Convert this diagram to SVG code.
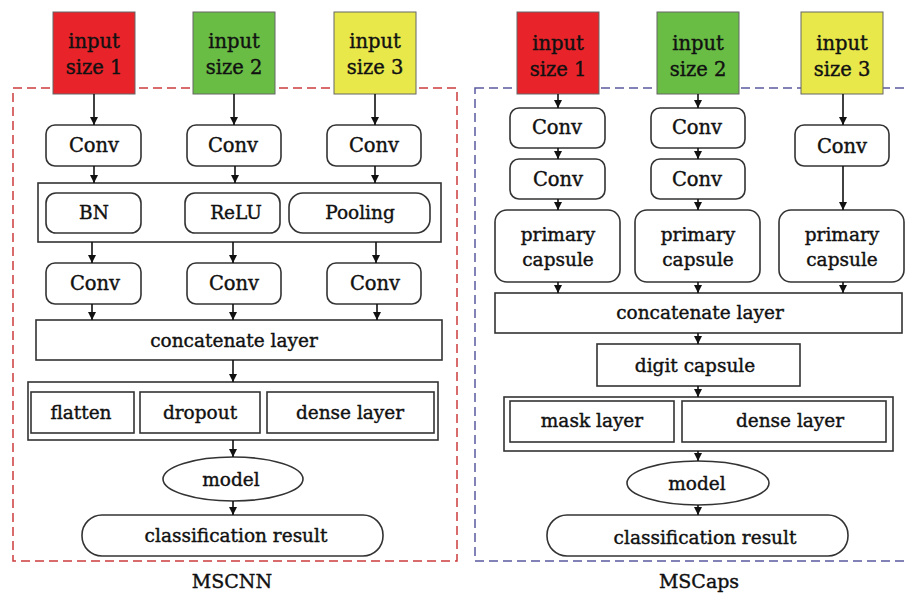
<svg xmlns="http://www.w3.org/2000/svg" width="908" height="593" viewBox="0 0 908 593">
<defs>
<marker id="ah" markerUnits="userSpaceOnUse" markerWidth="9" markerHeight="9" refX="8" refY="4" orient="auto">
<path d="M0,0 L8,4 L0,8 z" fill="#111"/>
</marker>
<style>
text{font-family:"DejaVu Serif","Liberation Serif",serif;font-size:18.5px;fill:#111;stroke:#111;stroke-width:0.4;text-anchor:middle}
.big{font-size:19.5px}
.b{fill:#fff;stroke:#333;stroke-width:1.6}
.in{stroke:#666;stroke-width:1}
.c line{stroke:#111;stroke-width:1.6;marker-end:url(#ah)}
.lbl{font-size:19px}
</style>
</defs>
<rect width="908" height="593" fill="#fff"/>
<!-- frames -->
<rect x="13" y="88" width="444" height="473" fill="none" stroke="#cc3b3b" stroke-width="1.5" stroke-dasharray="9,5"/>
<rect x="475" y="88" width="440" height="473" fill="none" stroke="#5a5a9e" stroke-width="1.5" stroke-dasharray="9,5"/>

<!-- LEFT: MSCNN -->
<g id="L_in1"><rect class="in" x="53" y="12" width="82" height="82" fill="#e8232a"/><text class="big" x="94" y="48">input</text><text class="big" x="94" y="74">size 1</text></g>
<g id="L_in2"><rect class="in" x="193" y="12" width="82" height="82" fill="#69bd45"/><text class="big" x="234" y="48">input</text><text class="big" x="234" y="74">size 2</text></g>
<g id="L_in3"><rect class="in" x="334" y="12" width="82" height="82" fill="#e8e84b"/><text class="big" x="375" y="48">input</text><text class="big" x="375" y="74">size 3</text></g>
<g id="L_conv1"><rect class="b" x="46" y="125" width="95" height="41" rx="9"/><text class="big" x="94" y="152">Conv</text></g>
<g id="L_conv2"><rect class="b" x="187" y="125" width="94" height="41" rx="9"/><text class="big" x="233" y="152">Conv</text></g>
<g id="L_conv3"><rect class="b" x="327" y="125" width="94" height="41" rx="9"/><text class="big" x="374" y="152">Conv</text></g>
<g id="L_bnblock">
<rect class="b" x="38" y="183" width="403" height="59"/>
<g id="L_bn"><rect class="b" x="46" y="193" width="95" height="40" rx="10"/><text x="94" y="219">BN</text></g>
<g id="L_relu"><rect class="b" x="185" y="193" width="95" height="40" rx="10"/><text x="236" y="219">ReLU</text></g>
<g id="L_pool"><rect class="b" x="289" y="193" width="141" height="40" rx="14"/><text x="360" y="219">Pooling</text></g>
</g>
<g id="L_conv4"><rect class="b" x="46" y="263" width="95" height="41" rx="9"/><text class="big" x="95" y="290">Conv</text></g>
<g id="L_conv5"><rect class="b" x="187" y="263" width="94" height="41" rx="9"/><text class="big" x="234" y="290">Conv</text></g>
<g id="L_conv6"><rect class="b" x="327" y="263" width="94" height="41" rx="9"/><text class="big" x="375" y="290">Conv</text></g>
<g id="L_concat"><rect class="b" x="36" y="320" width="406" height="40"/><text x="234" y="347">concatenate layer</text></g>
<g id="L_dense">
<rect class="b" x="28" y="382" width="410" height="58"/>
<g id="L_flatten"><rect class="b" x="31" y="392" width="103" height="41"/><text x="81" y="419">flatten</text></g>
<g id="L_dropout"><rect class="b" x="140" y="392" width="120" height="41"/><text x="200" y="419">dropout</text></g>
<g id="L_denselayer"><rect class="b" x="267" y="392" width="167" height="41"/><text x="350" y="419">dense layer</text></g>
</g>
<g id="L_model"><ellipse class="b" cx="233" cy="479" rx="70" ry="22"/><text x="231" y="486">model</text></g>
<g id="L_result"><rect class="b" x="82" y="515" width="301" height="41" rx="20"/><text x="236" y="542">classification result</text></g>
<text class="lbl" x="232" y="588">MSCNN</text>

<!-- RIGHT: MSCaps -->
<g id="R_in1"><rect class="in" x="517" y="12" width="82" height="82" fill="#e8232a"/><text class="big" x="558" y="50">input</text><text class="big" x="558" y="76">size 1</text></g>
<g id="R_in2"><rect class="in" x="657" y="12" width="82" height="82" fill="#69bd45"/><text class="big" x="698" y="50">input</text><text class="big" x="698" y="76">size 2</text></g>
<g id="R_in3"><rect class="in" x="801" y="12" width="82" height="82" fill="#e8e84b"/><text class="big" x="842" y="50">input</text><text class="big" x="842" y="76">size 3</text></g>
<g id="R_conv1a"><rect class="b" x="510" y="108" width="95" height="40" rx="9"/><text class="big" x="557" y="134">Conv</text></g>
<g id="R_conv1b"><rect class="b" x="510" y="159" width="95" height="40" rx="9"/><text class="big" x="558" y="186">Conv</text></g>
<g id="R_conv2a"><rect class="b" x="651" y="108" width="94" height="40" rx="9"/><text class="big" x="697" y="134">Conv</text></g>
<g id="R_conv2b"><rect class="b" x="651" y="159" width="94" height="40" rx="9"/><text class="big" x="697" y="186">Conv</text></g>
<g id="R_conv3"><rect class="b" x="795" y="125" width="94" height="41" rx="9"/><text class="big" x="842" y="153">Conv</text></g>
<g id="R_pc1"><rect class="b" x="495" y="210" width="125" height="72" rx="12"/><text x="558" y="241">primary</text><text x="558" y="266">capsule</text></g>
<g id="R_pc2"><rect class="b" x="635" y="210" width="125" height="72" rx="12"/><text x="698" y="241">primary</text><text x="698" y="266">capsule</text></g>
<g id="R_pc3"><rect class="b" x="779" y="210" width="125" height="72" rx="12"/><text x="842" y="241">primary</text><text x="842" y="266">capsule</text></g>
<g id="R_concat"><rect class="b" x="495" y="293" width="407" height="40"/><text x="700" y="319">concatenate layer</text></g>
<g id="R_digit"><rect class="b" x="597" y="344" width="203" height="42"/><text x="695" y="372">digit capsule</text></g>
<g id="R_dense">
<rect class="b" x="504" y="397" width="389" height="54"/>
<g id="R_mask"><rect class="b" x="510" y="401" width="164" height="41"/><text x="592" y="427">mask layer</text></g>
<g id="R_denselayer"><rect class="b" x="682" y="401" width="204" height="41"/><text x="790" y="427">dense layer</text></g>
</g>
<g id="R_model"><ellipse class="b" cx="698" cy="483" rx="71" ry="22"/><text x="697" y="490">model</text></g>
<g id="R_result"><rect class="b" x="547" y="515" width="301" height="41" rx="20"/><text x="705" y="544">classification result</text></g>
<text class="lbl" x="699" y="588">MSCaps</text>

<!-- connectors -->
<g id="connectors" class="c">
<line x1="94" y1="94" x2="94" y2="125"/>
<line x1="234" y1="94" x2="234" y2="125"/>
<line x1="375" y1="94" x2="375" y2="125"/>
<line x1="94" y1="166" x2="94" y2="183"/>
<line x1="235" y1="166" x2="235" y2="183"/>
<line x1="375" y1="166" x2="375" y2="183"/>
<line x1="92" y1="242" x2="92" y2="263"/>
<line x1="233" y1="242" x2="233" y2="263"/>
<line x1="376" y1="242" x2="376" y2="263"/>
<line x1="92" y1="304" x2="92" y2="320"/>
<line x1="233" y1="304" x2="233" y2="320"/>
<line x1="377" y1="304" x2="377" y2="320"/>
<line x1="233" y1="360" x2="233" y2="382"/>
<line x1="233" y1="440" x2="233" y2="457"/>
<line x1="233" y1="501" x2="233" y2="515"/>

<line x1="558" y1="94" x2="558" y2="108"/>
<line x1="698" y1="94" x2="698" y2="108"/>
<line x1="843" y1="94" x2="843" y2="125"/>
<line x1="558" y1="148" x2="558" y2="159"/>
<line x1="698" y1="148" x2="698" y2="159"/>
<line x1="558" y1="199" x2="558" y2="210"/>
<line x1="698" y1="199" x2="698" y2="210"/>
<line x1="843" y1="166" x2="843" y2="210"/>
<line x1="558" y1="282" x2="558" y2="293"/>
<line x1="698" y1="282" x2="698" y2="293"/>
<line x1="843" y1="282" x2="843" y2="293"/>
<line x1="698" y1="333" x2="698" y2="344"/>
<line x1="698" y1="386" x2="698" y2="397"/>
<line x1="698" y1="451" x2="698" y2="461"/>
<line x1="698" y1="505" x2="698" y2="515"/>
</g>
</svg>
